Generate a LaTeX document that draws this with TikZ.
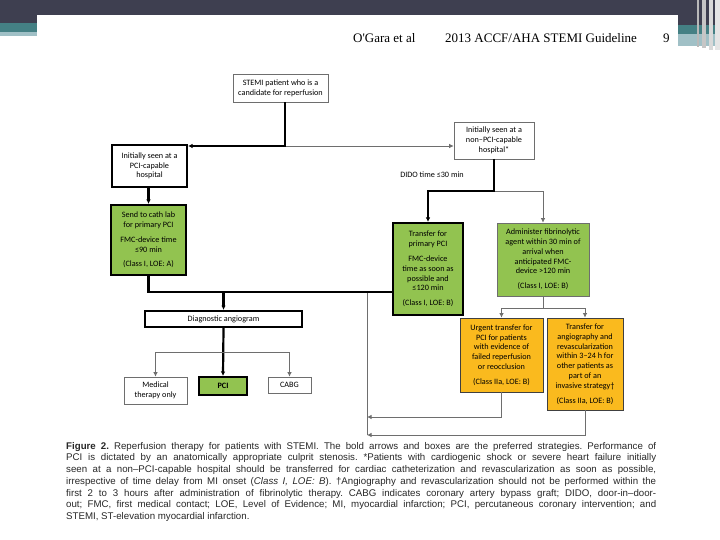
\documentclass[tikz,border=0pt]{standalone}
\usepackage{fontspec}
\setmainfont{Liberation Sans}
\newfontfamily\boxfont{Carlito}
\newfontfamily\headfont{Liberation Serif}
\usetikzlibrary{arrows.meta}
\definecolor{slidedark}{RGB}{62,63,80}
\definecolor{slideteal}{RGB}{68,128,132}
\definecolor{slidelight}{RGB}{160,192,198}
\definecolor{boxgreen}{RGB}{146,195,80}
\definecolor{boxorange}{RGB}{250,186,30}
\definecolor{thinline}{RGB}{110,110,110}
\definecolor{captext}{RGB}{40,40,40}
\tikzset{
 flowbox/.style={draw=thinline, line width=0.6pt, font=\boxfont\fontsize{8.2}{9.8}\selectfont, align=center, inner sep=0pt, text=black},
 boldbox/.style={flowbox, draw=black, line width=2pt},
 greenfill/.style={fill=boxgreen},
 orangebox/.style={flowbox, fill=boxorange, draw=black!75, line width=0.8pt},
 boldflow/.style={line width=2.2pt, black},
 thinflow/.style={line width=0.8pt, thinline},
 arrowend/.style={-{Latex[length=4.5pt,width=4.5pt]}},
}
\begin{document}
\frenchspacing
\begin{tikzpicture}[x=1pt,y=-1pt]
\useasboundingbox (0,0) rectangle (720,540);
\fill[white] (0,0) rectangle (720,540);
% slide frame
\fill[slidedark] (0,0) rectangle (720,15);
\fill[slidedark] (0,15) rectangle (37,23);
\fill[slideteal] (0,23) rectangle (37,32);
\fill[slidelight] (0,32) rectangle (37,36);
\fill[slidedark] (678,15) rectangle (720,25);
\fill[slideteal] (678,25) rectangle (720,34);
\fill[slidelight] (678,34) rectangle (720,46);
\fill[gray!55] (697,0) rectangle (699,47);
\fill[gray!45] (702,0) rectangle (706,48);
\fill[gray!30] (709,0) rectangle (713,50);
\fill[gray!20] (715,0) rectangle (720,50);
% header
\node[font=\headfont\fontsize{13}{15}\selectfont, anchor=west, inner sep=0pt] (hauth) at (353,38) {O'Gara et al};
\node[font=\headfont\fontsize{13}{15}\selectfont, anchor=west, inner sep=0pt] (htitle) at (445,38) {2013 ACCF/AHA STEMI Guideline};
\node[font=\headfont\fontsize{13}{15}\selectfont, anchor=west, inner sep=0pt] (hpage) at (663,38) {9};
% boxes
\node[flowbox, minimum width=95, minimum height=28] (stemi) at (280.5,88) {STEMI patient who is a\\candidate for reperfusion};
\node[boldbox, minimum width=75, minimum height=42] (pcicap) at (149.5,166) {Initially seen at a\\PCI-capable\\hospital};
\node[flowbox, minimum width=80, minimum height=37] (nonpci) at (494,140.5) {Initially seen at a\\non–PCI-capable\\hospital*};
\node[boldbox, greenfill, minimum width=75, minimum height=70] (cath) at (148.5,240) {Send to cath lab\\for primary PCI\\[5pt]FMC-device time\\≤90 min\\[5pt](Class I, LOE: A)};
\node[boldbox, greenfill, minimum width=70, minimum height=92] (xfer) at (428,269) {Transfer for\\primary PCI\\[5pt]FMC-device\\time as soon as\\possible and\\≤120 min\\[5pt](Class I, LOE: B)};
\node[flowbox, greenfill, minimum width=92, minimum height=73] (admin) at (543,259.5) {Administer fibrinolytic\\agent within 30 min of\\arrival when\\anticipated FMC-\\device >120 min\\[5pt](Class I, LOE: B)};
\node[orangebox, minimum width=83, minimum height=74] (urgent) at (501.5,355) {Urgent transfer for\\PCI for patients\\with evidence of\\failed reperfusion\\or reocclusion\\[5pt](Class IIa, LOE: B)};
\node[orangebox, minimum width=76, minimum height=92] (angio) at (585,364) {Transfer for\\angiography and\\revascularization\\within 3–24 h for\\other patients as\\part of an\\invasive strategy†\\[5pt](Class IIa, LOE: B)};
\node[boldbox, minimum width=157, minimum height=16] (diag) at (223.5,319) {Diagnostic angiogram};
\node[flowbox, minimum width=63, minimum height=27] (med) at (155.5,390.5) {Medical\\therapy only};
\node[boldbox, greenfill, minimum width=48, minimum height=18, font=\boxfont\bfseries\fontsize{8.2}{9.8}\selectfont] (pci) at (223,386) {PCI};
\node[flowbox, minimum width=43, minimum height=16] (cabg) at (289.5,385) {CABG};
\node[font=\boxfont\fontsize{8.2}{9}\selectfont, inner sep=0pt] (dido) at (432,175) {DIDO time ≤30 min};
% junctions
\coordinate (j1) at (285,146);
\coordinate (j2) at (494,191);
\coordinate (j3) at (148.5,292);
\coordinate (j4) at (367,292);
\coordinate (j5) at (367,417);
\coordinate (j6) at (367,435);
\coordinate (j7) at (543,308);
\coordinate (j8) at (223,352);
% connectors
\draw[thinflow, arrowend] (j1) -- (nonpci.west |- j1);
\draw[boldflow, arrowend] (stemi.south -| j1) -- (j1) -- (pcicap.east |- j1);
\draw[boldflow, arrowend] (pcicap.south -| cath.north) -- (cath.north);
\draw[thinflow, arrowend] (j2) -- (j2 -| admin.north) -- (admin.north);
\draw[boldflow, arrowend] (nonpci.south |- 0,159) -- (j2) -- (j2 -| xfer.north) -- (xfer.north);
\draw[thinflow] (j4) -- (j6);
\draw[boldflow] (cath.south) -- (j3) -- (j3 -| xfer.west);
\draw[boldflow, arrowend] (j3 -| diag.north) -- (diag.north);
\draw[thinflow] (admin.south) -- (j7);
\draw[thinflow] (j7 -| urgent.north) -- (j7 -| angio.north);
\draw[thinflow, arrowend] (j7 -| urgent.north) -- (urgent.north);
\draw[thinflow, arrowend] (j7 -| angio.north) -- (angio.north);
\draw[thinflow, arrowend] (urgent.south) -- (urgent.south |- j5) -- (j5);
\draw[thinflow, arrowend] (angio.south) -- (angio.south |- j6) -- (j6);
\draw[boldflow, arrowend] (diag.south) -- (pci.north);
\draw[thinflow] (j8 -| med.north) -- (j8 -| cabg.north);
\draw[thinflow, arrowend] (j8 -| med.north) -- (med.north);
\draw[thinflow, arrowend] (j8 -| cabg.north) -- (cabg.north);
% caption
\node[anchor=north west, inner sep=0pt, text width=590, align=justify, text=captext, font=\fontsize{9.7}{11.7}\selectfont] (caption) at (66,442) {\textbf{Figure 2.} Reperfusion therapy for patients with STEMI. The bold arrows and boxes are the preferred strategies. Performance of\linebreak
PCI is dictated by an anatomically appropriate culprit stenosis. *Patients with cardiogenic shock or severe heart failure initially\linebreak
seen at a non–PCI-capable hospital should be transferred for cardiac catheterization and revascularization as soon as possible,\linebreak
irrespective of time delay from MI onset (\textit{Class I, LOE: B}). †Angiography and revascularization should not be performed within the\linebreak
first 2 to 3 hours after administration of fibrinolytic therapy. CABG indicates coronary artery bypass graft; DIDO, door-in–door-\linebreak
out; FMC, first medical contact; LOE, Level of Evidence; MI, myocardial infarction; PCI, percutaneous coronary intervention; and\linebreak
STEMI, ST-elevation myocardial infarction.};
\end{tikzpicture}
\end{document}
